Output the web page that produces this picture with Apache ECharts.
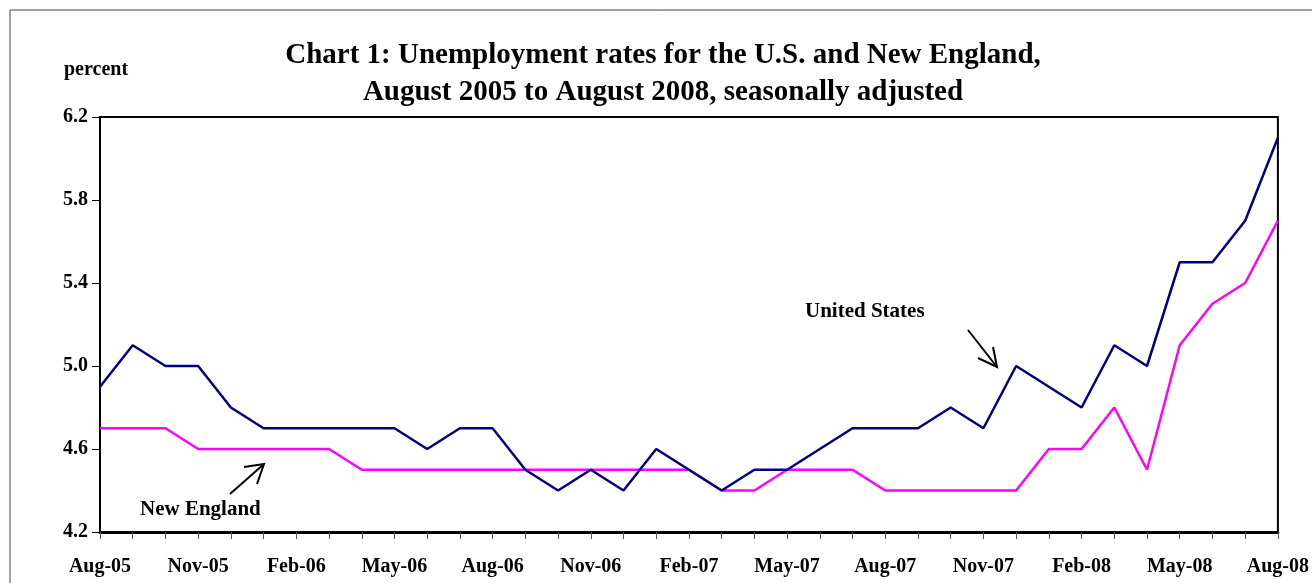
<!DOCTYPE html>
<html>
<head>
<meta charset="utf-8">
<script src="https://cdn.jsdelivr.net/npm/echarts@6/dist/echarts.min.js"></script>
<style>html,body{margin:0;padding:0;background:#fff;}#c{width:1312px;height:583px;}</style>
</head>
<body>
<div id="c"></div>
<script>
const months = ["Aug-05","Sep-05","Oct-05","Nov-05","Dec-05","Jan-06","Feb-06","Mar-06","Apr-06","May-06","Jun-06","Jul-06",
"Aug-06","Sep-06","Oct-06","Nov-06","Dec-06","Jan-07","Feb-07","Mar-07","Apr-07","May-07","Jun-07","Jul-07",
"Aug-07","Sep-07","Oct-07","Nov-07","Dec-07","Jan-08","Feb-08","Mar-08","Apr-08","May-08","Jun-08","Jul-08","Aug-08"];
const usRates = [4.9,5.1,5.0,5.0,4.8,4.7,4.7,4.7,4.7,4.7,4.6,4.7,4.7,4.5,4.4,4.5,4.4,4.6,4.5,4.4,4.5,4.5,4.6,4.7,4.7,4.7,4.8,4.7,5.0,4.9,4.8,5.1,5.0,5.5,5.5,5.7,6.1];
const neRates = [4.7,4.7,4.7,4.6,4.6,4.6,4.6,4.6,4.5,4.5,4.5,4.5,4.5,4.5,4.5,4.5,4.5,4.5,4.5,4.4,4.4,4.5,4.5,4.5,4.4,4.4,4.4,4.4,4.4,4.6,4.6,4.8,4.5,5.1,5.3,5.4,5.7];
const yTicks = [4.2,4.6,5.0,5.4,5.8,6.2];

const F = '"Liberation Serif","Times New Roman",serif';
const chart = echarts.init(document.getElementById('c'));
const txt = (x, y, t, size, align) => ({type:'text', x:x, y:y, style:{text:t, font:'bold '+size+'px '+F, fill:'#000', textAlign:align||'left', textVerticalAlign:'middle'}});
const arrow = (pts) => ({type:'polyline', shape:{points:pts}, style:{stroke:'#000', lineWidth:2, fill:null}});
chart.setOption({
  animation:false,
  backgroundColor:'#fff',
  grid:{left:100, right:31, top:117, bottom:51, show:true, borderColor:'#000', borderWidth:2, backgroundColor:'transparent'},
  xAxis:{
    type:'category', data:months, boundaryGap:false,
    axisLine:{lineStyle:{color:'#000', width:3}},
    axisTick:{show:true, interval:0, length:7, lineStyle:{color:'#555', width:1}},
    axisLabel:{interval:2, margin:25, color:'#000', fontFamily:F, fontWeight:'bold', fontSize:20, showMaxLabel:true}
  },
  yAxis:{
    type:'value', min:4.2, max:6.2,
    splitLine:{show:false},
    axisLine:{show:true, lineStyle:{color:'#000', width:2}},
    axisTick:{show:true, length:8, customValues:yTicks, lineStyle:{color:'#000', width:1}},
    axisLabel:{customValues:yTicks, margin:12, color:'#000', fontFamily:F, fontWeight:'bold', fontSize:20,
      formatter:v=>v.toFixed(1)}
  },
  series:[
    {name:'United States', type:'line', data:usRates, symbol:'none', lineStyle:{color:'#000080', width:2.5}, z:3},
    {name:'New England', type:'line', data:neRates, symbol:'none', lineStyle:{color:'#FF00FF', width:2.5}, z:2}
  ],
  graphic:[
    {type:'rect', shape:{x:10, y:10, width:1330, height:620}, style:{fill:null, stroke:'#444', lineWidth:1}, silent:true},
    txt(663, 56, 'Chart 1: Unemployment rates for the U.S. and New England,', 29, 'center'),
    txt(663, 93, 'August 2005 to August 2008, seasonally adjusted', 29, 'center'),
    txt(64, 70, 'percent', 20),
    txt(805, 312, 'United States', 21),
    txt(140, 510, 'New England', 21),
    arrow([[968,330],[997,367]]),
    arrow([[978,358],[997,367],[993,347]]),
    arrow([[230,494],[264,464]]),
    arrow([[244,467],[264,464],[257,484]])
  ]
});
</script>
</body>
</html>
